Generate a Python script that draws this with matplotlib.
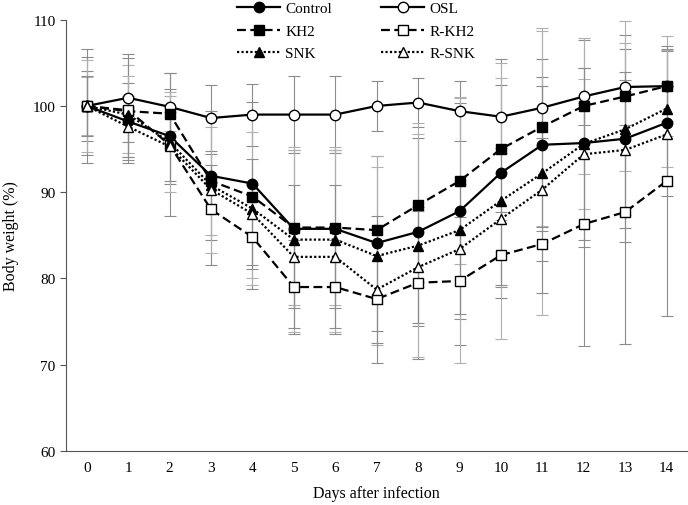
import matplotlib
matplotlib.use("Agg")
import matplotlib.pyplot as plt
import numpy as np

plt.rcParams['font.family'] = ['Liberation Serif', 'DejaVu Serif']

days = list(range(15))

# mean body weight (%) per group
control = [100, 98.2, 96.5, 91.9, 91.0, 85.75, 85.75, 84.1, 85.4, 87.8, 92.25, 95.5, 95.7, 96.2, 98.05]
osl = [100, 100.95, 99.9, 98.6, 99.0, 99.0, 99.0, 100.0, 100.4, 99.4, 98.75, 99.8, 101.1, 102.2, 102.3]
kh2 = [100, 99.4, 99.1, 91.3, 89.5, 85.9, 85.9, 85.6, 88.5, 91.3, 95.0, 97.6, 100.0, 101.1, 102.3]
r_kh2 = [100, 99.5, 95.5, 88.0, 84.8, 79.0, 79.0, 77.6, 79.5, 79.7, 82.7, 84.0, 86.3, 87.7, 91.3]
snk = [100, 99.0, 95.8, 90.8, 88.1, 84.5, 84.5, 82.6, 83.8, 85.6, 89.0, 92.2, 95.6, 97.3, 99.7]
r_snk = [100, 97.6, 95.3, 90.3, 87.5, 82.5, 82.5, 78.7, 81.3, 83.4, 86.9, 90.3, 94.4, 94.9, 96.7]

# standard deviations
control_sd = [5.7, 4.5, 5.5, 7.5, 9.45, 9.2, 9.2, 10.15, 10.9, 12.5, 13.2, 10.0, 12.0, 12.0, 8.5]
osl_sd = [4.1, 5.1, 3.9, 3.8, 3.6, 4.5, 4.5, 2.85, 2.8, 3.45, 3.65, 3.55, 3.3, 4.35, 4.1]
kh2_sd = [3.4, 5.3, 2.0, 6.3, 9.5, 9.0, 9.0, 8.6, 9.5, 9.6, 8.2, 11.5, 7.9, 8.7, 5.8]
r_kh2_sd = [6.6, 6.1, 8.3, 6.4, 6.0, 5.5, 5.5, 5.1, 8.8, 7.4, 5.0, 2.0, 14.1, 15.3, 15.7]
snk_sd = [5.35, 4.5, 5.8, 7.8, 8.9, 10.7, 10.7, 10.3, 12.9, 15.4, 16.0, 16.5, 7.5, 10.0, 6.8]
r_snk_sd = [3.5, 3.5, 4.0, 2.8, 6.4, 8.3, 8.3, 8.5, 6.5, 7.5, 7.7, 12.0, 10.0, 9.0, 6.0]

groups = [
    ('Control', control, control_sd, 'o', 'black', '-', '#8c8c8c'),
    ('OSL', osl, osl_sd, 'o', 'white', '-', '#8c8c8c'),
    ('KH2', kh2, kh2_sd, 's', 'black', (0, (4, 2)), '#b0b0b0'),
    ('R-KH2', r_kh2, r_kh2_sd, 's', 'white', (0, (4, 2)), '#8c8c8c'),
    ('SNK', snk, snk_sd, '^', 'black', (0, (1, 1)), '#b0b0b0'),
    ('R-SNK', r_snk, r_snk_sd, '^', 'white', (0, (1, 1)), '#8c8c8c'),
]

fig = plt.figure(figsize=(6.88, 5.06), dpi=100)
ax = fig.add_axes([0.096, 0.107, 0.903, 0.852])

# error bars first so the lines sit on top
for name, y, sd, mk, fc, ls, ecol in groups:
    ax.errorbar(days, y, yerr=sd, fmt='none', ecolor=ecol, elinewidth=0.8,
                capsize=4, capthick=0.8, zorder=1)

handles = {}
for name, y, sd, mk, fc, ls, ecol in groups:
    h, = ax.plot(days, y, linestyle=ls, color='black', linewidth=1.6,
                 marker=mk, markersize=7.5,
                 markerfacecolor=fc, markeredgecolor='black', markeredgewidth=1.0,
                 label=name, zorder=3)
    handles[name] = h

ax.set_xlim(-0.5, 14.5)
ax.set_ylim(60, 110)
ax.set_xticks(days)
ax.set_yticks(range(60, 111, 10))
ax.tick_params(axis='x', length=0, pad=7, labelsize=11)
ax.tick_params(axis='y', length=4, direction='out', labelsize=11, color='#555555')
ax.spines['top'].set_visible(False)
ax.spines['right'].set_visible(False)
ax.spines['left'].set_color('#555555')
ax.spines['bottom'].set_color('#555555')

ax.set_xlabel('Days after infection', fontsize=11.5, labelpad=8)
ax.set_ylabel('Body weight (%)', fontsize=11.5, labelpad=10)

# legend fills column-wise, so order it to read row by row
order = ['Control', 'KH2', 'SNK', 'OSL', 'R-KH2', 'R-SNK']
fig.legend([handles[n] for n in order], order, ncol=2,
           loc='upper left', bbox_to_anchor=(0.325, 1.022), frameon=False,
           fontsize=11, handlelength=2.8, columnspacing=3.2,
           labelspacing=0.58, handletextpad=0.35)

fig.savefig('out.png', dpi=100)
